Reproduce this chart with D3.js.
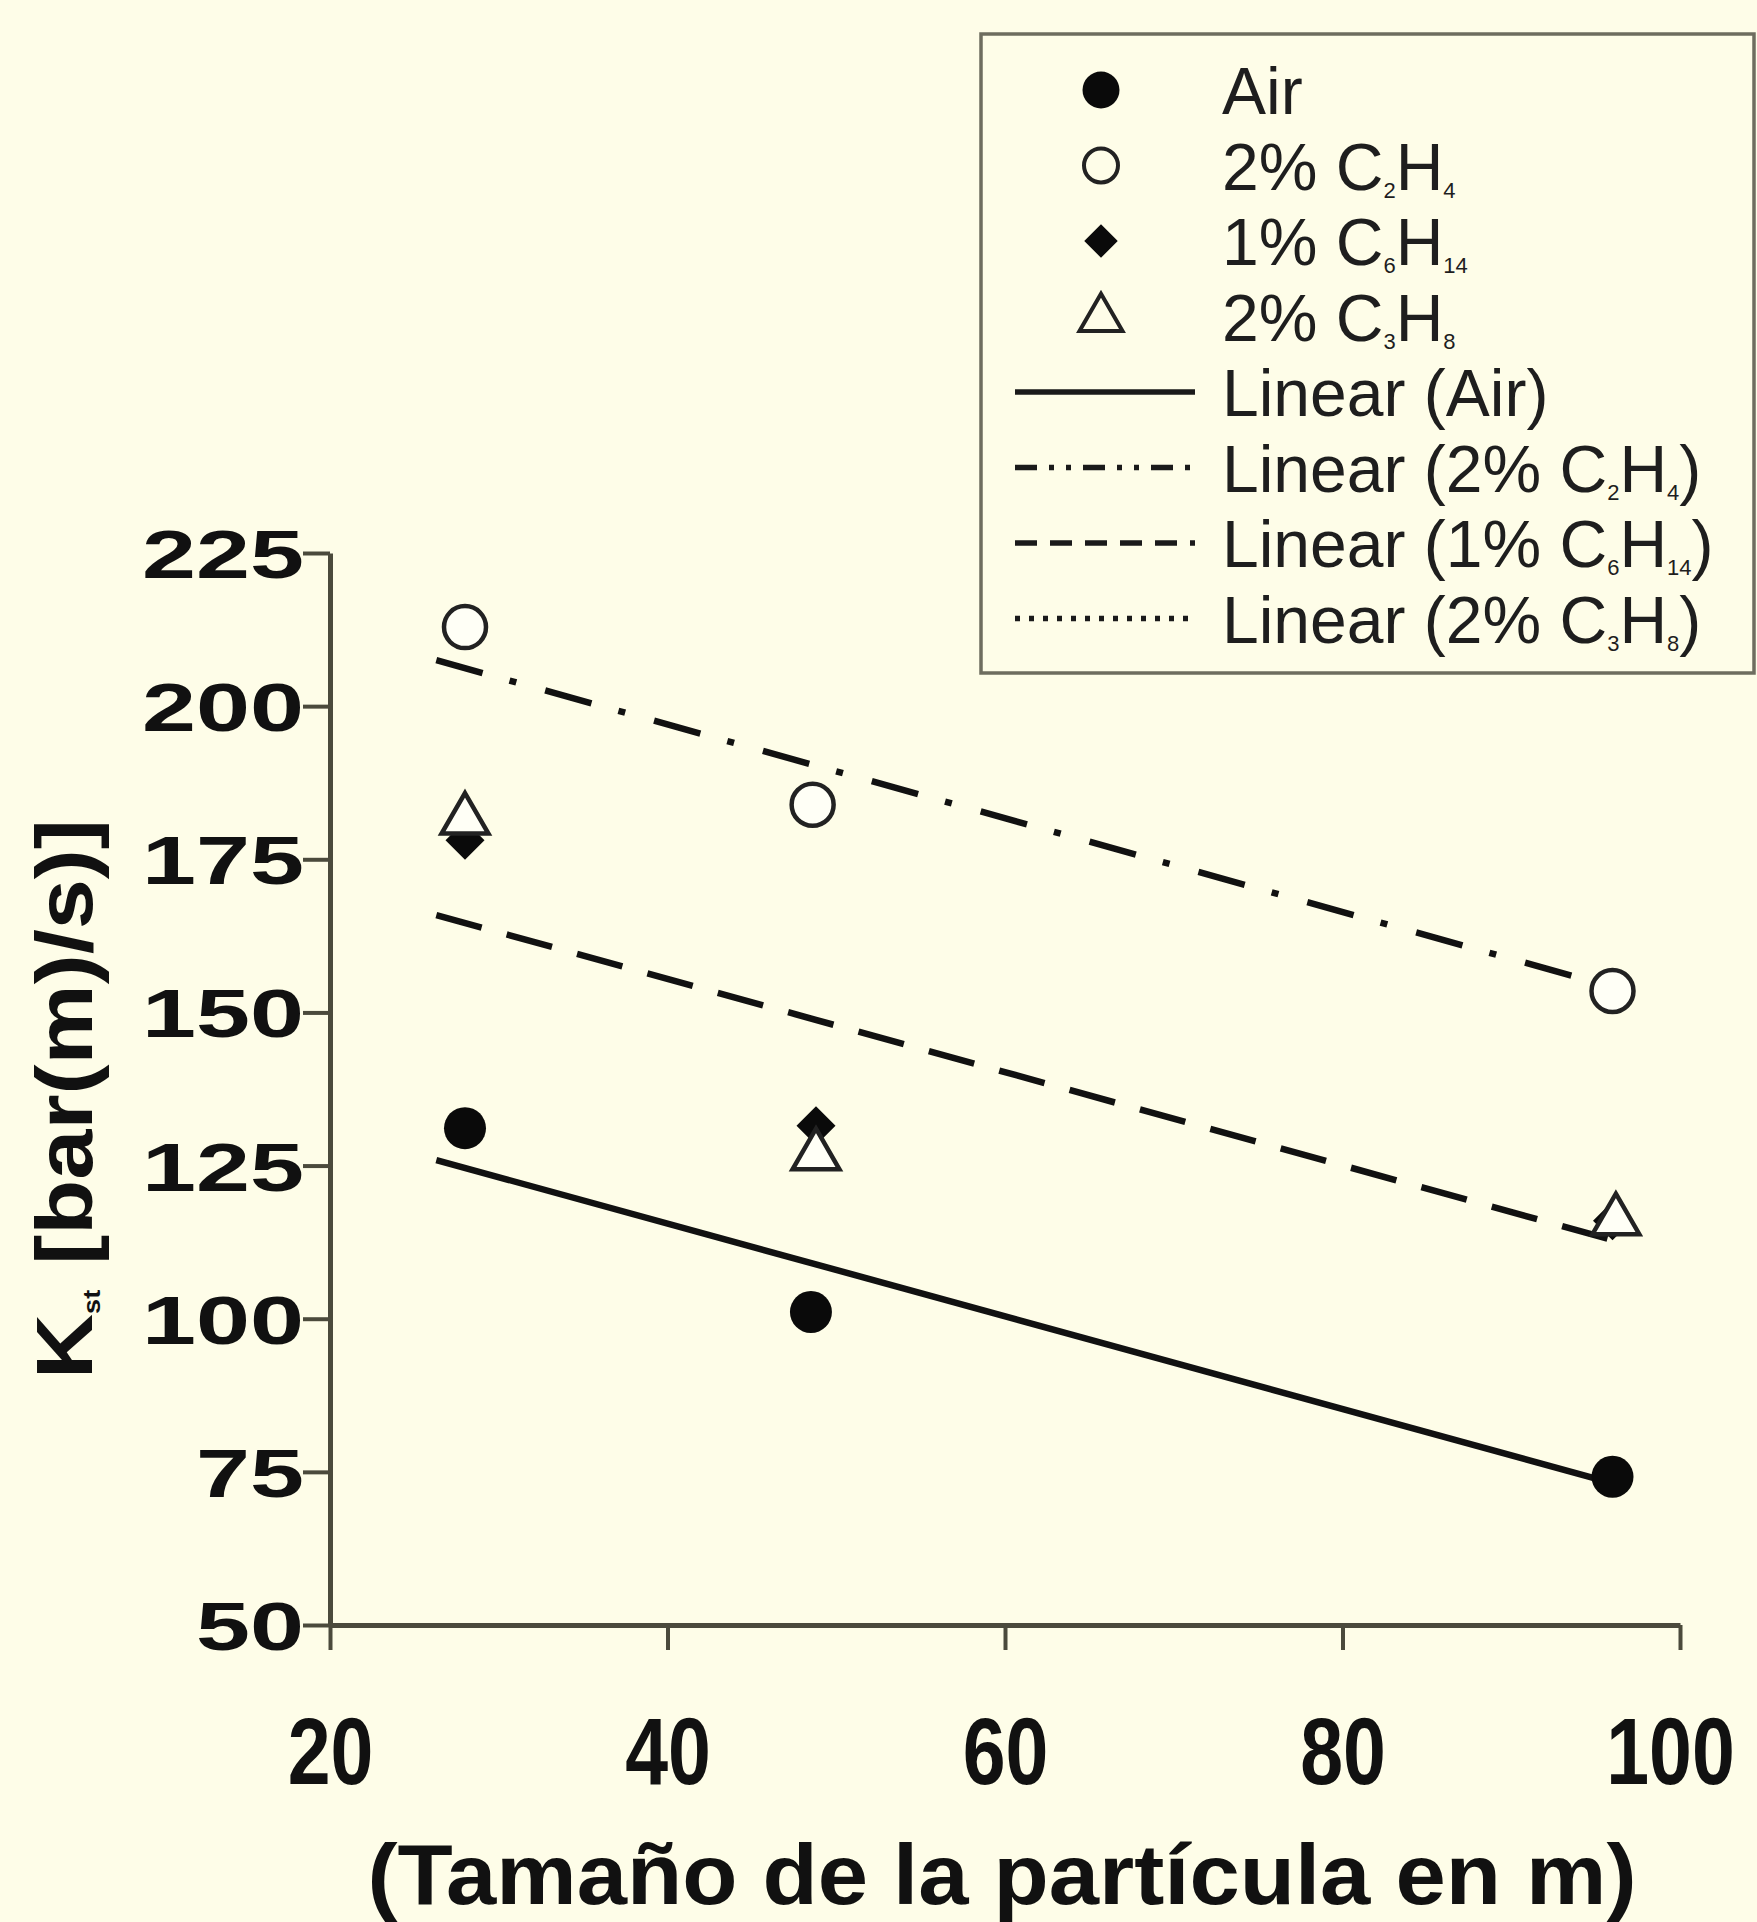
<!DOCTYPE html>
<html>
<head>
<meta charset="utf-8">
<script src="https://cdn.jsdelivr.net/npm/d3@7"></script>
<style>
  html, body { margin: 0; padding: 0; background: #fefde8; }
  svg { display: block; }
  text { font-family: "Liberation Sans", Arial, sans-serif; }
</style>
</head>
<body>
<svg id="chart" width="1757" height="1922"></svg>
<script>
// ---------- data ----------
const xTicks = [20, 40, 60, 80, 100];
const yTicks = [50, 75, 100, 125, 150, 175, 200, 225];

const airX   = [28, 48.5, 96];
const airY   = [131.1, 101.1, 74.2];
const c2h4X  = [28, 48.6, 96];
const c2h4Y  = [212.9, 183.9, 153.5];
const c6h14X = [28, 48.8, 96];
const c6h14Y = [178.1, 131.5, 116];
const c3h8X  = [28, 48.8, 96.2];
const c3h8Y  = [181.4, 126.6, 116.0];

// trend line endpoints
const airTrendX   = [26.3, 96.2];
const airTrendY   = [125.9, 73.0];
const c2h4TrendX  = [26.3, 96.2];
const c2h4TrendY  = [207.5, 154.0];
const c6h14TrendX = [26.3, 96.2];
const c6h14TrendY = [165.9, 112.7];

const legendLabels = [
  [["Air", 0]],
  [["2% C", 0], ["2", 1], ["H", 0], ["4", 1]],
  [["1% C", 0], ["6", 1], ["H", 0], ["14", 1]],
  [["2% C", 0], ["3", 1], ["H", 0], ["8", 1]],
  [["Linear (Air)", 0]],
  [["Linear (2% C", 0], ["2", 1], ["H", 0], ["4", 1], [")", 0]],
  [["Linear (1% C", 0], ["6", 1], ["H", 0], ["14", 1], [")", 0]],
  [["Linear (2% C", 0], ["3", 1], ["H", 0], ["8", 1], [")", 0]]
];
const xTitle = "(Tamaño de la partícula en m)";

// ---------- chart ----------
const svg = d3.select("#chart");
const BG = "#fefde8";
const AX = "#4b4a3c";
svg.append("rect").attr("width", 1757).attr("height", 1922).attr("fill", BG);

const x = d3.scaleLinear().domain([20, 100]).range([330, 1680]);
const y = d3.scaleLinear().domain([50, 225]).range([1625, 553]);

// y axis
const gy = svg.append("g").attr("transform", "translate(330,0)")
  .call(d3.axisLeft(y).tickValues(yTicks).tickSize(27).tickSizeOuter(0).tickPadding(-1));
gy.select(".domain").attr("stroke", AX).attr("stroke-width", 5);
gy.selectAll(".tick line").attr("stroke", AX).attr("stroke-width", 4);
gy.selectAll(".tick text")
  .attr("font-size", 68).attr("font-weight", "bold").attr("fill", "#111")
  .attr("font-family", "Liberation Sans, Arial, sans-serif")
  .attr("dy", "0.36em")
  .attr("textLength", d => String(d).length * 54)
  .attr("lengthAdjust", "spacingAndGlyphs");

// x axis
const gx = svg.append("g").attr("transform", "translate(0,1625)")
  .call(d3.axisBottom(x).tickValues(xTicks).tickSize(25).tickSizeOuter(0));
gx.select(".domain").attr("stroke", AX).attr("stroke-width", 5);
gx.selectAll(".tick line").attr("stroke", AX).attr("stroke-width", 4);
const sx = 0.82;
gx.selectAll(".tick text")
  .attr("font-size", 94).attr("font-weight", "bold").attr("fill", "#111")
  .attr("font-family", "Liberation Sans, Arial, sans-serif")
  .attr("y", 159).attr("dy", 0)
  .attr("x", d => (d === 100 ? -10 : 0) / sx)
  .attr("transform", `scale(${sx},1)`);

// x title
svg.append("text")
  .attr("x", 1002).attr("y", 1904)
  .attr("text-anchor", "middle")
  .attr("font-size", 85).attr("font-weight", "bold").attr("fill", "#111")
  .attr("textLength", 1269).attr("lengthAdjust", "spacingAndGlyphs")
  .text(xTitle);

// y title
const yt = svg.append("text")
  .attr("font-size", 80).attr("font-weight", "bold").attr("fill", "#111");
yt.append("tspan").text("K");
yt.append("tspan").attr("font-size", 24).attr("dy", 8).text("st");
yt.append("tspan").attr("dy", -8).text(" [bar(m)/s)]");
const ytLen = yt.node().getComputedTextLength();
yt.attr("transform", `translate(92,1379) rotate(-90) scale(${560 / ytLen},1)`);

// trend lines
const line = d3.line().x(d => x(d[0])).y(d => y(d[1]));
const zip = (a, b) => a.map((v, i) => [v, b[i]]);

svg.append("path").datum(zip(airTrendX, airTrendY))
  .attr("d", line).attr("fill", "none").attr("stroke", "#111").attr("stroke-width", 6.5);
svg.append("path").datum(zip(c2h4TrendX, c2h4TrendY))
  .attr("d", line).attr("fill", "none").attr("stroke", "#111").attr("stroke-width", 6.5)
  .attr("stroke-dasharray", "48,28,7,30");
svg.append("path").datum(zip(c6h14TrendX, c6h14TrendY))
  .attr("d", line).attr("fill", "none").attr("stroke", "#111").attr("stroke-width", 6.5)
  .attr("stroke-dasharray", "47,26");

// markers
svg.append("g").selectAll("circle").data(zip(airX, airY)).join("circle")
  .attr("cx", d => x(d[0])).attr("cy", d => y(d[1])).attr("r", 21).attr("fill", "#0a0a0a");

svg.append("g").selectAll("circle").data(zip(c2h4X, c2h4Y)).join("circle")
  .attr("cx", d => x(d[0])).attr("cy", d => y(d[1])).attr("r", 21)
  .attr("fill", "#fffff6").attr("stroke", "#222").attr("stroke-width", 4.5);

const diamond = d3.symbol().type(d3.symbolSquare).size(760);
svg.append("g").selectAll("path").data(zip(c6h14X, c6h14Y)).join("path")
  .attr("d", diamond)
  .attr("transform", d => `translate(${x(d[0])},${y(d[1])}) rotate(45)`)
  .attr("fill", "#0a0a0a");

const tri = d3.symbol().type(d3.symbolTriangle).size(950);
svg.append("g").selectAll("path").data(zip(c3h8X, c3h8Y)).join("path")
  .attr("d", tri)
  .attr("transform", d => `translate(${x(d[0])},${y(d[1])})`)
  .attr("fill", "#fffff6").attr("stroke", "#222").attr("stroke-width", 4.5)
  .attr("stroke-linejoin", "miter");

// ---------- legend ----------
const lg = svg.append("g");
lg.append("rect").attr("x", 981).attr("y", 34).attr("width", 773).attr("height", 639)
  .attr("fill", BG).attr("stroke", "#6e6d5f").attr("stroke-width", 3.5);

const rowY = i => 90 + i * 75.5;
const symX = 1101;

lg.append("circle").attr("cx", symX).attr("cy", rowY(0)).attr("r", 18.5).attr("fill", "#0a0a0a");
lg.append("circle").attr("cx", symX).attr("cy", rowY(1)).attr("r", 17)
  .attr("fill", "none").attr("stroke", "#222").attr("stroke-width", 4);
lg.append("path").attr("d", d3.symbol().type(d3.symbolSquare).size(560))
  .attr("transform", `translate(${symX},${rowY(2)}) rotate(45)`).attr("fill", "#0a0a0a");
lg.append("path").attr("d", d3.symbol().type(d3.symbolTriangle).size(800))
  .attr("transform", `translate(${symX},${rowY(3) + 2})`)
  .attr("fill", "none").attr("stroke", "#222").attr("stroke-width", 4);

const legDash = [null, "22,12,5,12,5,12", "22,13", "5,9"];
legDash.forEach((da, i) => {
  const ln = lg.append("line").attr("x1", 1015).attr("x2", 1195)
    .attr("y1", rowY(4 + i)).attr("y2", rowY(4 + i))
    .attr("stroke", "#1a1a1a").attr("stroke-width", 5.5);
  if (da) ln.attr("stroke-dasharray", da);
});

legendLabels.forEach((parts, i) => {
  const t = lg.append("text").attr("x", 1222).attr("y", rowY(i) + 24)
    .attr("font-size", 66).attr("fill", "#1e1e1e");
  let sub = false;
  parts.forEach(([s, isSub]) => {
    const ts = t.append("tspan").text(s);
    if (isSub && !sub) { ts.attr("font-size", 22).attr("dy", 8); sub = true; }
    else if (!isSub && sub) { ts.attr("dy", -8); sub = false; }
    else if (isSub) ts.attr("font-size", 22);
  });
});
</script>
</body>
</html>
